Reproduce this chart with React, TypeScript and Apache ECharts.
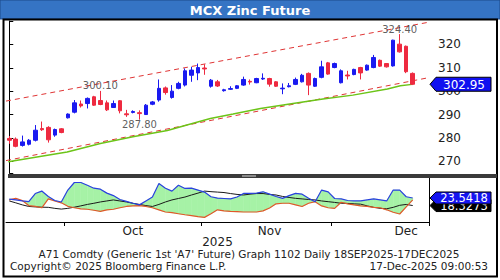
import React, { useEffect, useRef } from "react";
import * as echarts from "echarts";

// ---------- data ----------
const dates = [
  "2025-09-18", "2025-09-19", "2025-09-22", "2025-09-23", "2025-09-24", "2025-09-25", "2025-09-26", "2025-09-29", "2025-09-30",
  "2025-10-01", "2025-10-03", "2025-10-06", "2025-10-07", "2025-10-08", "2025-10-09", "2025-10-10", "2025-10-13", "2025-10-14",
  "2025-10-15", "2025-10-16", "2025-10-17", "2025-10-20", "2025-10-21", "2025-10-23", "2025-10-24", "2025-10-27", "2025-10-28",
  "2025-10-29", "2025-10-30", "2025-10-31",
  "2025-11-03", "2025-11-04", "2025-11-05", "2025-11-06", "2025-11-07", "2025-11-10", "2025-11-11", "2025-11-12", "2025-11-13",
  "2025-11-14", "2025-11-17", "2025-11-18", "2025-11-19", "2025-11-20", "2025-11-21", "2025-11-24", "2025-11-25", "2025-11-26",
  "2025-11-27", "2025-11-28",
  "2025-12-01", "2025-12-02", "2025-12-03", "2025-12-04", "2025-12-05", "2025-12-08", "2025-12-09", "2025-12-10", "2025-12-11",
  "2025-12-12", "2025-12-15", "2025-12-16", "2025-12-17",
];
const padCategories = ["", " "];

const opens = [279.8, 279.5, 276.8, 277.3, 279.0, 284.0, 284.5, 281.2, 283.9, 288.6,
  291.0, 294.5, 294.7, 297.6, 296.0, 295.0, 293.0, 295.9, 290.3, 290.9,
  290.8, 290.0, 294.4, 296.2, 301.4, 297.3, 301.2, 302.6, 306.8, 307.8,
  309.9, 302.1, 304.0, 300.2, 300.8, 301.2, 302.6, 304.2, 303.6, 305.2,
  305.4, 304.0, 301.0, 301.9, 302.9, 304.0, 307.6, 302.1, 305.9, 312.1,
  310.1, 303.6, 306.9, 307.1, 310.1, 309.0, 310.1, 313.2, 311.8, 310.8,
  320.1, 319.2, 307.6];
const closes = [279.0, 276.4, 278.3, 279.0, 283.3, 283.5, 279.2, 283.6, 282.3, 290.2,
  295.0, 293.7, 296.9, 294.0, 294.3, 292.0, 294.7, 291.6, 289.9, 291.3,
  290.4, 294.0, 295.4, 301.2, 299.4, 300.0, 303.3, 308.7, 309.0, 310.1,
  309.5, 304.7, 302.2, 300.6, 301.1, 302.3, 305.0, 303.9, 305.4, 305.5,
  303.0, 302.1, 301.3, 302.3, 305.0, 306.8, 302.6, 305.4, 310.4, 307.3,
  311.8, 308.7, 306.5, 309.3, 307.8, 311.1, 314.4, 310.7, 310.4, 321.8,
  316.8, 308.3, 302.95];
const lows = [277.5, 276.0, 276.3, 276.8, 278.5, 283.0, 278.0, 280.5, 282.0, 288.3,
  290.5, 293.0, 292.6, 293.7, 294.0, 291.5, 292.8, 290.5, 289.0, 290.5,
  287.8, 289.8, 294.0, 295.5, 298.5, 296.8, 300.8, 302.0, 304.0, 304.7,
  307.0, 301.5, 301.8, 299.8, 300.5, 300.9, 302.3, 302.8, 303.4, 304.8,
  301.9, 301.8, 298.7, 301.6, 302.6, 303.7, 298.3, 301.8, 305.5, 307.0,
  309.8, 303.3, 305.0, 306.8, 305.0, 308.7, 309.8, 310.4, 310.1, 310.5,
  316.5, 307.7, 302.6];
const highs = [280.8, 280.2, 281.0, 279.5, 285.5, 287.0, 285.0, 284.0, 284.2, 290.5,
  296.2, 296.0, 297.3, 298.0, 300.1, 296.0, 296.0, 296.2, 292.0, 291.8,
  291.8, 294.5, 295.8, 305.0, 302.0, 302.6, 304.0, 309.7, 310.4, 311.8,
  311.5, 305.2, 304.8, 301.0, 302.1, 302.6, 306.2, 305.0, 305.7, 307.6,
  305.7, 304.3, 303.3, 303.5, 305.8, 307.4, 308.0, 305.8, 313.0, 312.5,
  312.2, 309.3, 308.7, 309.6, 310.4, 311.4, 315.5, 313.5, 312.0, 322.0,
  324.4, 319.5, 308.0];

// moving average (green), read at a few positions (category index, value)
const maIdx = [-0.15, 8.9, 14.0, 19.0, 24.3, 27.3, 30.9, 34.4, 38.6, 43.6, 48.2, 52.8, 58.1, 60.1, 61.9];
const maVals = [269.8, 274.0, 277.6, 280.5, 283.2, 285.5, 288.3, 290.2, 292.6, 294.7, 296.6, 298.3, 300.9, 302.3, 302.9];

// channel trend lines (end points at the plot edges)
const trendIdx = [-0.5, 64.5];
const upperTrend = [295.75, 329.5];
const lowerTrend = [270.3, 305.8];

// annotated extremes
const extremeIdx = [14, 20, 60];
const extremeKind = ["high", "low", "high"];

// DMI panel
const dmiPlus = [22.7, 22.2, 21.5, 21.0, 26.6, 28.3, 24.6, 21.8, 20.8, 29.0,
  34.2, 34.2, 32.3, 30.3, 29.6, 26.9, 25.2, 22.5, 21.2, 19.9,
  18.8, 21.5, 24.2, 33.5, 30.3, 28.3, 32.3, 30.1, 30.3, 29.0,
  27.6, 24.4, 23.5, 23.2, 22.9, 24.2, 26.7, 26.7, 26.9, 27.8,
  26.2, 24.6, 23.3, 25.2, 26.7, 26.2, 23.3, 21.0, 29.0, 27.8,
  23.2, 22.9, 21.8, 21.5, 21.5, 22.2, 22.9, 22.2, 21.5, 29.0,
  29.0, 24.4, 23.5418];
const dmiMinus = [22.2, 23.3, 21.8, 18.3, 17.8, 16.8, 22.9, 21.5, 20.2, 17.8,
  16.8, 16.1, 15.8, 15.1, 14.3, 15.4, 15.8, 16.8, 17.7, 18.1,
  18.3, 17.7, 16.8, 15.4, 13.9, 13.4, 12.7, 12.0, 11.4, 10.7,
  10.2, 12.7, 15.4, 14.7, 14.3, 14.1, 13.9, 13.9, 13.9, 14.7,
  16.6, 19.5, 19.9, 19.9, 18.8, 17.7, 19.9, 21.0, 18.1, 16.8,
  16.4, 20.6, 19.5, 18.8, 18.1, 17.7, 17.1, 16.8, 15.4, 13.7,
  12.5, 17.4, 22.2];
const adx = [21.5, 20.2, 18.8, 17.7, 17.4, 17.2, 17.1, 16.4, 15.9, 16.4,
  17.2, 18.1, 19.1, 19.9, 20.8, 21.5, 22.2, 21.5, 20.8, 19.9,
  19.1, 18.3, 17.7, 19.1, 20.8, 22.2, 23.2, 24.2, 25.6, 26.9,
  28.3, 27.9, 27.6, 27.3, 26.6, 26.0, 25.6, 26.2, 26.6, 26.6,
  26.0, 25.6, 24.6, 23.9, 23.3, 22.9, 22.5, 22.2, 21.5, 21.0,
  20.5, 19.9, 19.8, 19.5, 19.3, 18.1, 17.1, 16.4, 16.1, 17.1,
  18.5, 19.1, 18.3273];

// x-axis labels
const monthLabelIdx = [19, 40, 61];
const yearLabelIdx = 32;
const monthNames = ["Jan", "Feb", "Mar", "Apr", "May", "Jun", "Jul", "Aug", "Sep", "Oct", "Nov", "Dec"];

const titleText = "MCX Zinc Future";
const footer1 = "A71 Comdty (Generic 1st 'A7' Future) Graph 1102 Daily 18SEP2025-17DEC2025";
const footer2 = "Copyright\u00A9 2025 Bloomberg Finance L.P.";
const footer3 = "17-Dec-2025 09:00:53";

const FONT = "DejaVu Sans";
const UP = "#1a1af0";
const DOWN = "#ee2a40";
const GREEN_FILL = "#a6f2a6";
const PINK_FILL = "#f8c0c0";

export default function App() {
  const ref = useRef<HTMLDivElement>(null);

  useEffect(() => {
    const el = ref.current as HTMLDivElement;
    const chart = echarts.init(el, null, { renderer: "svg" });

    const categories = [...dates, ...padCategories];
    const monthStarts = dates
      .map((d, i) => (i > 0 && d.slice(5, 7) !== dates[i - 1].slice(5, 7) ? i : -1))
      .filter((i) => i >= 0);

    const candleData = dates.map((_, i) => [opens[i], closes[i], lows[i], highs[i]]);
    const fillData = dmiPlus.slice(0, -1).map((_, i) => [i, dmiPlus[i], dmiMinus[i], dmiPlus[i + 1], dmiMinus[i + 1]]);
    const extremeData = extremeIdx.map((i, k) => ({
      value: [i, extremeKind[k] === "high" ? highs[i] : lows[i]],
      label: { position: extremeKind[k] === "high" ? "top" : "bottom" },
    }));

    const option: any = {
      animation: false,
      textStyle: { fontFamily: FONT },
      grid: [
        { left: 6, right: 71, top: 21, height: 152, outerBoundsMode: "none" },
        { left: 6, right: 71, top: 177, height: 45, outerBoundsMode: "none" },
      ],
      xAxis: [
        { type: "category", gridIndex: 0, data: categories, boundaryGap: true, show: false },
        { type: "value", gridIndex: 0, min: -0.5, max: 64.5, show: false },
        {
          type: "category", gridIndex: 1, data: categories, boundaryGap: true,
          axisLine: { show: true, lineStyle: { color: "#000", width: 1 } },
          axisTick: { show: true, length: 4, interval: (idx: number) => monthStarts.includes(idx), lineStyle: { color: "#000" } },
          axisLabel: {
            show: true,
            interval: (idx: number) => monthLabelIdx.includes(idx) || idx === yearLabelIdx,
            formatter: (v: string, idx: number) => {
              if (idx === yearLabelIdx) return "\n" + dates[idx].slice(0, 4);
              return monthNames[parseInt(dates[idx].slice(5, 7), 10) - 1];
            },
            color: "#222", fontSize: 12, fontFamily: FONT, margin: 3, lineHeight: 11,
          },
          splitLine: { show: false },
        },
      ],
      yAxis: [
        {
          type: "value", gridIndex: 0, position: "right", min: 265, max: 330, minInterval: 10, maxInterval: 10,
          axisLine: { show: true, lineStyle: { color: "#000", width: 1 } },
          axisTick: { show: true, inside: false, length: 4, lineStyle: { color: "#000" } },
          axisLabel: {
            color: "#222", fontSize: 12, fontFamily: FONT, margin: 9,
            formatter: (v: number) => (v % 10 === 0 && v >= 270 && v <= 320 ? String(v) : ""),
          },
          splitLine: { show: false },
        },
        {
          type: "value", gridIndex: 1, position: "right", min: 7, max: 38,
          axisLine: { show: true, lineStyle: { color: "#000", width: 1 } },
          axisTick: { show: false }, axisLabel: { show: false }, splitLine: { show: false },
        },
      ],
      series: [
        {
          type: "line", xAxisIndex: 1, yAxisIndex: 0, data: trendIdx.map((x, k) => [x, upperTrend[k]]),
          showSymbol: false, silent: true, z: 1,
          lineStyle: { color: "#e03535", width: 1, type: [5, 4] },
        },
        {
          type: "line", xAxisIndex: 1, yAxisIndex: 0, data: trendIdx.map((x, k) => [x, lowerTrend[k]]),
          showSymbol: false, silent: true, z: 1,
          lineStyle: { color: "#e03535", width: 1, type: [5, 4] },
        },
        {
          type: "line", xAxisIndex: 1, yAxisIndex: 0, data: maIdx.map((x, k) => [x, maVals[k]]),
          showSymbol: false, silent: true, z: 2,
          lineStyle: { color: "#6cc418", width: 1.5 },
        },
        {
          type: "candlestick", xAxisIndex: 0, yAxisIndex: 0, data: candleData, barWidth: "62%", z: 3,
          itemStyle: { color: UP, color0: DOWN, borderColor: UP, borderColor0: DOWN, borderWidth: 1 },
        },
        {
          type: "scatter", xAxisIndex: 1, yAxisIndex: 0, data: extremeData, symbolSize: 0, silent: true, z: 4,
          label: {
            show: true, distance: 0, color: "#333", fontSize: 10, fontFamily: FONT,
            formatter: (p: any) => Number(p.value[1]).toFixed(2),
          },
        },
        {
          type: "custom", xAxisIndex: 2, yAxisIndex: 1, data: fillData, silent: true, z: 1,
          encode: { x: 0, y: [1, 2, 3, 4] },
          renderItem: (params: any, api: any) => {
            const i = api.value(0);
            const b0 = api.value(1), r0 = api.value(2), b1 = api.value(3), r1 = api.value(4);
            const B0 = api.coord([i, b0]);
            const R0 = api.coord([i, r0]);
            const B1 = api.coord([i + 1, b1]);
            const R1 = api.coord([i + 1, r1]);
            const d0 = b0 - r0, d1 = b1 - r1;
            const col = (d: number) => (d >= 0 ? GREEN_FILL : PINK_FILL);
            if (d0 * d1 >= 0) {
              const c = col(d0 + d1);
              return { type: "polygon", shape: { points: [B0, B1, R1, R0] }, style: { fill: c, stroke: c, lineWidth: 0.5 } };
            }
            const t = d0 / (d0 - d1);
            const C = [B0[0] + t * (B1[0] - B0[0]), B0[1] + t * (B1[1] - B0[1])];
            return {
              type: "group",
              children: [
                { type: "polygon", shape: { points: [B0, C, R0] }, style: { fill: col(d0), stroke: col(d0), lineWidth: 0.5 } },
                { type: "polygon", shape: { points: [C, B1, R1] }, style: { fill: col(d1), stroke: col(d1), lineWidth: 0.5 } },
              ],
            };
          },
        },
        {
          type: "line", xAxisIndex: 2, yAxisIndex: 1, data: adx, showSymbol: false, silent: true, z: 3,
          lineStyle: { color: "#1a1a1a", width: 1 },
        },
        {
          type: "line", xAxisIndex: 2, yAxisIndex: 1, data: dmiMinus, showSymbol: false, silent: true, z: 4,
          lineStyle: { color: "#e0582a", width: 1.2 },
        },
        {
          type: "line", xAxisIndex: 2, yAxisIndex: 1, data: dmiPlus, showSymbol: false, silent: true, z: 5,
          lineStyle: { color: "#2a40e0", width: 1.2 },
        },
      ],
    };

    chart.setOption(option);

    const last = dates.length - 1;
    const xEdge = chart.convertToPixel({ xAxisIndex: 1 }, 64.5) as unknown as number;
    const yClose = chart.convertToPixel({ yAxisIndex: 0 }, closes[last]) as unknown as number;
    const yPlus = chart.convertToPixel({ yAxisIndex: 1 }, dmiPlus[last]) as unknown as number;
    const yAdx = chart.convertToPixel({ yAxisIndex: 1 }, adx[last]) as unknown as number;

    const boxEl = (yc: number, half: number, fill: string, text: string, z: number, fontSize: number) => [
      {
        type: "polygon", z,
        shape: { points: [[xEdge + 1, yc], [xEdge + 7, yc - half], [xEdge + 62, yc - half], [xEdge + 62, yc + half], [xEdge + 7, yc + half]] },
        style: { fill, stroke: "#000", lineWidth: 1 },
      },
      {
        type: "text", z: z + 1, x: xEdge + 35, y: yc + 0.5,
        style: { text, fill: "#fff", font: `${fontSize}px "${FONT}"`, align: "center", verticalAlign: "middle", textAlign: "center", textVerticalAlign: "middle" },
      },
    ];

    const txt = (x: number, y: number, text: string, align: string, font: string, fill = "#222") => ({
      type: "text", x, y, z: 60,
      style: { text, fill, font, align, verticalAlign: "middle", textAlign: align, textVerticalAlign: "middle" },
    });

    chart.setOption({
      graphic: [
        { type: "rect", z: 50, shape: { x: 0, y: 0, width: 500, height: 19 }, style: { fill: "#3574c4", stroke: "#1d4a8a", lineWidth: 1 } },
        txt(250, 10, titleText, "center", `bold 13px "${FONT}"`, "#ffffff"),
        { type: "rect", z: 50, shape: { x: 3.5, y: 19.5, width: 493.5, height: 257 }, style: { fill: "none", stroke: "#000", lineWidth: 2 } },
        { type: "rect", z: 50, shape: { x: 8, y: 174, width: 489, height: 4 }, style: { fill: "#3a3a3a" } },
        { type: "rect", z: 51, shape: { x: 242, y: 175, width: 14, height: 2 }, style: { fill: "#8a8a8a" } },
        ...boxEl(yClose, 7, "#1010f0", closes[last].toFixed(2), 100, 12),
        ...boxEl(yAdx, 6, "#000000", adx[last].toFixed(4), 100, 11.5),
        ...boxEl(yPlus, 6, "#1515f0", dmiPlus[last].toFixed(4), 110, 11.5),
        txt(249, 253.5, footer1, "center", `10.5px "${FONT}"`),
        txt(10, 266, footer2, "left", `10.5px "${FONT}"`),
        txt(488, 266, footer3, "right", `10.5px "${FONT}"`),
      ],
    });

    return () => chart.dispose();
  }, []);

  return <div ref={ref} style={{ position: "fixed", left: 0, top: 0, width: 500, height: 280, background: "#fff" }} />;
}
